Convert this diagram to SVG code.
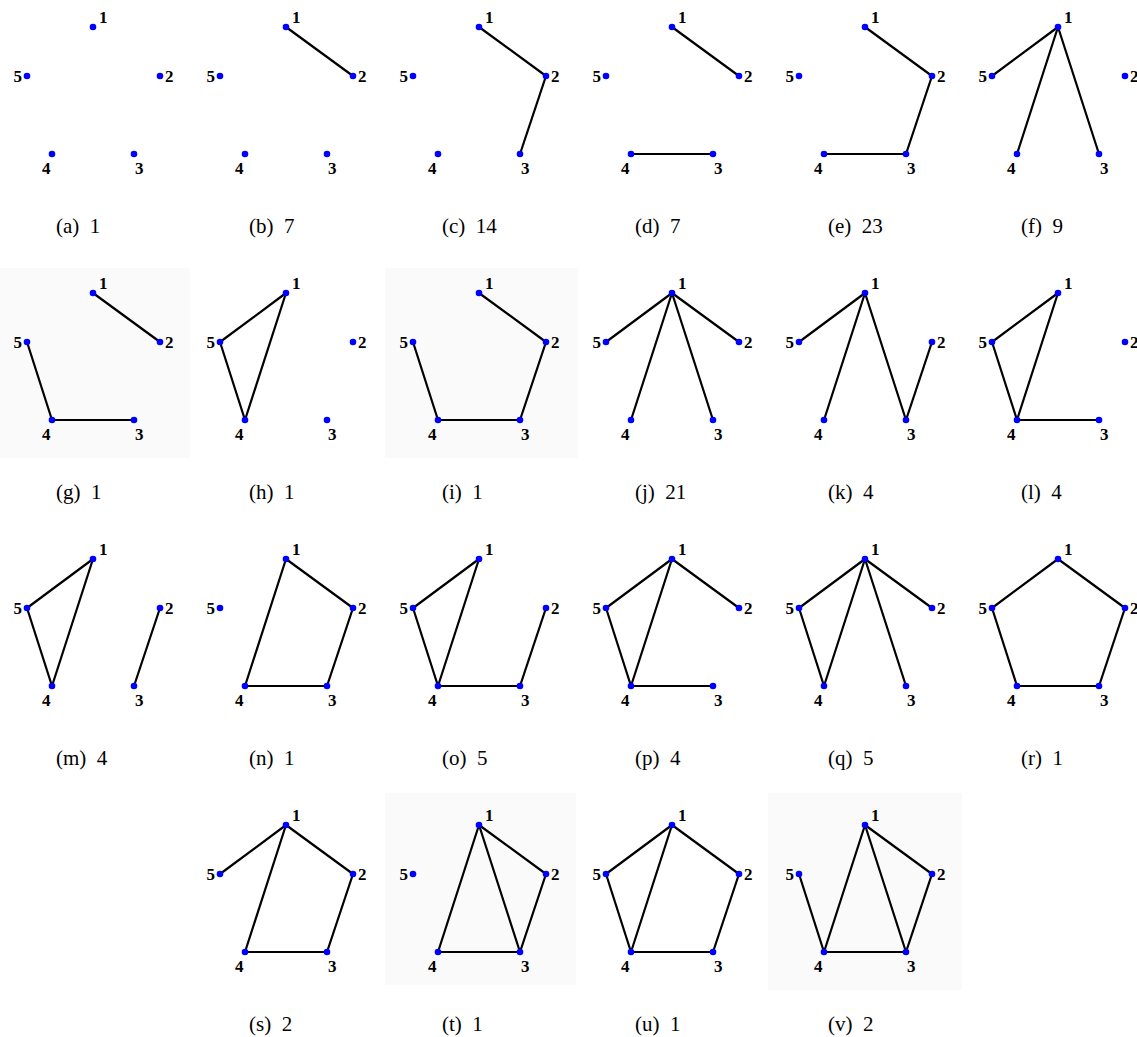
<svg xmlns="http://www.w3.org/2000/svg" width="1137" height="1037" viewBox="0 0 1137 1037">
<style>
.bg{fill:#fafafa}
.e{stroke:#000;stroke-width:2.2;stroke-linecap:round;fill:none}
.n circle{fill:#0000ff}
.n text{font-family:"Liberation Serif","Times New Roman",serif;font-weight:bold;font-size:17px;fill:#000}
.cap{font-family:"Liberation Serif","Times New Roman",serif;font-size:21px;fill:#000;white-space:pre}
</style>
<defs>
<line id="e12" x1="0" y1="0" x2="67" y2="49"/>
<line id="e23" x1="67" y1="49" x2="41" y2="127"/>
<line id="e34" x1="41" y1="127" x2="-41" y2="127"/>
<line id="e45" x1="-41" y1="127" x2="-66" y2="49"/>
<line id="e51" x1="-66" y1="49" x2="0" y2="0"/>
<line id="e14" x1="0" y1="0" x2="-41" y2="127"/>
<line id="e13" x1="0" y1="0" x2="41" y2="127"/>
</defs>
<rect class="bg" x="0" y="268" width="190" height="190"/>
<rect class="bg" x="385" y="268" width="193" height="190"/>
<rect class="bg" x="385" y="793" width="191" height="192"/>
<rect class="bg" x="768" y="793" width="194" height="197"/>
<g id="connectors" class="e">
<g transform="translate(286,27)"><use href="#e12"/></g>
<g transform="translate(479,27)"><use href="#e12"/><use href="#e23"/></g>
<g transform="translate(672,27)"><use href="#e12"/><use href="#e34"/></g>
<g transform="translate(865,27)"><use href="#e12"/><use href="#e23"/><use href="#e34"/></g>
<g transform="translate(1058,27)"><use href="#e51"/><use href="#e14"/><use href="#e13"/></g>
<g transform="translate(93,293)"><use href="#e12"/><use href="#e45"/><use href="#e34"/></g>
<g transform="translate(286,293)"><use href="#e51"/><use href="#e45"/><use href="#e14"/></g>
<g transform="translate(479,293)"><use href="#e12"/><use href="#e23"/><use href="#e34"/><use href="#e45"/></g>
<g transform="translate(672,293)"><use href="#e51"/><use href="#e14"/><use href="#e13"/><use href="#e12"/></g>
<g transform="translate(865,293)"><use href="#e51"/><use href="#e14"/><use href="#e13"/><use href="#e23"/></g>
<g transform="translate(1058,293)"><use href="#e51"/><use href="#e45"/><use href="#e14"/><use href="#e34"/></g>
<g transform="translate(93,559)"><use href="#e51"/><use href="#e45"/><use href="#e14"/><use href="#e23"/></g>
<g transform="translate(286,559)"><use href="#e12"/><use href="#e23"/><use href="#e34"/><use href="#e14"/></g>
<g transform="translate(479,559)"><use href="#e51"/><use href="#e45"/><use href="#e14"/><use href="#e34"/><use href="#e23"/></g>
<g transform="translate(672,559)"><use href="#e51"/><use href="#e45"/><use href="#e14"/><use href="#e34"/><use href="#e12"/></g>
<g transform="translate(865,559)"><use href="#e51"/><use href="#e45"/><use href="#e14"/><use href="#e13"/><use href="#e12"/></g>
<g transform="translate(1058,559)"><use href="#e12"/><use href="#e23"/><use href="#e34"/><use href="#e45"/><use href="#e51"/></g>
<g transform="translate(286,825)"><use href="#e51"/><use href="#e14"/><use href="#e12"/><use href="#e23"/><use href="#e34"/></g>
<g transform="translate(479,825)"><use href="#e14"/><use href="#e13"/><use href="#e12"/><use href="#e23"/><use href="#e34"/></g>
<g transform="translate(672,825)"><use href="#e51"/><use href="#e45"/><use href="#e14"/><use href="#e12"/><use href="#e23"/><use href="#e34"/></g>
<g transform="translate(865,825)"><use href="#e45"/><use href="#e14"/><use href="#e13"/><use href="#e12"/><use href="#e23"/><use href="#e34"/></g>
</g>
<g id="panel-a" transform="translate(93,27)">
<g id="a-n1" class="n"><circle r="3.3"/><text x="6" y="-4">1</text></g>
<g id="a-n2" class="n"><circle cx="67" cy="49" r="3.3"/><text x="72" y="55">2</text></g>
<g id="a-n3" class="n"><circle cx="41" cy="127" r="3.3"/><text x="42" y="147">3</text></g>
<g id="a-n4" class="n"><circle cx="-41" cy="127" r="3.3"/><text x="-51" y="147">4</text></g>
<g id="a-n5" class="n"><circle cx="-66" cy="49" r="3.3"/><text x="-71" y="55" text-anchor="end">5</text></g>
<text class="cap" x="-37" y="206">(a)  1</text>
</g>
<g id="panel-b" transform="translate(286,27)">
<g id="b-n1" class="n"><circle r="3.3"/><text x="6" y="-4">1</text></g>
<g id="b-n2" class="n"><circle cx="67" cy="49" r="3.3"/><text x="72" y="55">2</text></g>
<g id="b-n3" class="n"><circle cx="41" cy="127" r="3.3"/><text x="42" y="147">3</text></g>
<g id="b-n4" class="n"><circle cx="-41" cy="127" r="3.3"/><text x="-51" y="147">4</text></g>
<g id="b-n5" class="n"><circle cx="-66" cy="49" r="3.3"/><text x="-71" y="55" text-anchor="end">5</text></g>
<text class="cap" x="-37" y="206">(b)  7</text>
</g>
<g id="panel-c" transform="translate(479,27)">
<g id="c-n1" class="n"><circle r="3.3"/><text x="6" y="-4">1</text></g>
<g id="c-n2" class="n"><circle cx="67" cy="49" r="3.3"/><text x="72" y="55">2</text></g>
<g id="c-n3" class="n"><circle cx="41" cy="127" r="3.3"/><text x="42" y="147">3</text></g>
<g id="c-n4" class="n"><circle cx="-41" cy="127" r="3.3"/><text x="-51" y="147">4</text></g>
<g id="c-n5" class="n"><circle cx="-66" cy="49" r="3.3"/><text x="-71" y="55" text-anchor="end">5</text></g>
<text class="cap" x="-37" y="206">(c)  14</text>
</g>
<g id="panel-d" transform="translate(672,27)">
<g id="d-n1" class="n"><circle r="3.3"/><text x="6" y="-4">1</text></g>
<g id="d-n2" class="n"><circle cx="67" cy="49" r="3.3"/><text x="72" y="55">2</text></g>
<g id="d-n3" class="n"><circle cx="41" cy="127" r="3.3"/><text x="42" y="147">3</text></g>
<g id="d-n4" class="n"><circle cx="-41" cy="127" r="3.3"/><text x="-51" y="147">4</text></g>
<g id="d-n5" class="n"><circle cx="-66" cy="49" r="3.3"/><text x="-71" y="55" text-anchor="end">5</text></g>
<text class="cap" x="-37" y="206">(d)  7</text>
</g>
<g id="panel-e" transform="translate(865,27)">
<g id="e-n1" class="n"><circle r="3.3"/><text x="6" y="-4">1</text></g>
<g id="e-n2" class="n"><circle cx="67" cy="49" r="3.3"/><text x="72" y="55">2</text></g>
<g id="e-n3" class="n"><circle cx="41" cy="127" r="3.3"/><text x="42" y="147">3</text></g>
<g id="e-n4" class="n"><circle cx="-41" cy="127" r="3.3"/><text x="-51" y="147">4</text></g>
<g id="e-n5" class="n"><circle cx="-66" cy="49" r="3.3"/><text x="-71" y="55" text-anchor="end">5</text></g>
<text class="cap" x="-37" y="206">(e)  23</text>
</g>
<g id="panel-f" transform="translate(1058,27)">
<g id="f-n1" class="n"><circle r="3.3"/><text x="6" y="-4">1</text></g>
<g id="f-n2" class="n"><circle cx="67" cy="49" r="3.3"/><text x="72" y="55">2</text></g>
<g id="f-n3" class="n"><circle cx="41" cy="127" r="3.3"/><text x="42" y="147">3</text></g>
<g id="f-n4" class="n"><circle cx="-41" cy="127" r="3.3"/><text x="-51" y="147">4</text></g>
<g id="f-n5" class="n"><circle cx="-66" cy="49" r="3.3"/><text x="-71" y="55" text-anchor="end">5</text></g>
<text class="cap" x="-37" y="206">(f)  9</text>
</g>
<g id="panel-g" transform="translate(93,293)">
<g id="g-n1" class="n"><circle r="3.3"/><text x="6" y="-4">1</text></g>
<g id="g-n2" class="n"><circle cx="67" cy="49" r="3.3"/><text x="72" y="55">2</text></g>
<g id="g-n3" class="n"><circle cx="41" cy="127" r="3.3"/><text x="42" y="147">3</text></g>
<g id="g-n4" class="n"><circle cx="-41" cy="127" r="3.3"/><text x="-51" y="147">4</text></g>
<g id="g-n5" class="n"><circle cx="-66" cy="49" r="3.3"/><text x="-71" y="55" text-anchor="end">5</text></g>
<text class="cap" x="-37" y="206">(g)  1</text>
</g>
<g id="panel-h" transform="translate(286,293)">
<g id="h-n1" class="n"><circle r="3.3"/><text x="6" y="-4">1</text></g>
<g id="h-n2" class="n"><circle cx="67" cy="49" r="3.3"/><text x="72" y="55">2</text></g>
<g id="h-n3" class="n"><circle cx="41" cy="127" r="3.3"/><text x="42" y="147">3</text></g>
<g id="h-n4" class="n"><circle cx="-41" cy="127" r="3.3"/><text x="-51" y="147">4</text></g>
<g id="h-n5" class="n"><circle cx="-66" cy="49" r="3.3"/><text x="-71" y="55" text-anchor="end">5</text></g>
<text class="cap" x="-37" y="206">(h)  1</text>
</g>
<g id="panel-i" transform="translate(479,293)">
<g id="i-n1" class="n"><circle r="3.3"/><text x="6" y="-4">1</text></g>
<g id="i-n2" class="n"><circle cx="67" cy="49" r="3.3"/><text x="72" y="55">2</text></g>
<g id="i-n3" class="n"><circle cx="41" cy="127" r="3.3"/><text x="42" y="147">3</text></g>
<g id="i-n4" class="n"><circle cx="-41" cy="127" r="3.3"/><text x="-51" y="147">4</text></g>
<g id="i-n5" class="n"><circle cx="-66" cy="49" r="3.3"/><text x="-71" y="55" text-anchor="end">5</text></g>
<text class="cap" x="-37" y="206">(i)  1</text>
</g>
<g id="panel-j" transform="translate(672,293)">
<g id="j-n1" class="n"><circle r="3.3"/><text x="6" y="-4">1</text></g>
<g id="j-n2" class="n"><circle cx="67" cy="49" r="3.3"/><text x="72" y="55">2</text></g>
<g id="j-n3" class="n"><circle cx="41" cy="127" r="3.3"/><text x="42" y="147">3</text></g>
<g id="j-n4" class="n"><circle cx="-41" cy="127" r="3.3"/><text x="-51" y="147">4</text></g>
<g id="j-n5" class="n"><circle cx="-66" cy="49" r="3.3"/><text x="-71" y="55" text-anchor="end">5</text></g>
<text class="cap" x="-37" y="206">(j)  21</text>
</g>
<g id="panel-k" transform="translate(865,293)">
<g id="k-n1" class="n"><circle r="3.3"/><text x="6" y="-4">1</text></g>
<g id="k-n2" class="n"><circle cx="67" cy="49" r="3.3"/><text x="72" y="55">2</text></g>
<g id="k-n3" class="n"><circle cx="41" cy="127" r="3.3"/><text x="42" y="147">3</text></g>
<g id="k-n4" class="n"><circle cx="-41" cy="127" r="3.3"/><text x="-51" y="147">4</text></g>
<g id="k-n5" class="n"><circle cx="-66" cy="49" r="3.3"/><text x="-71" y="55" text-anchor="end">5</text></g>
<text class="cap" x="-37" y="206">(k)  4</text>
</g>
<g id="panel-l" transform="translate(1058,293)">
<g id="l-n1" class="n"><circle r="3.3"/><text x="6" y="-4">1</text></g>
<g id="l-n2" class="n"><circle cx="67" cy="49" r="3.3"/><text x="72" y="55">2</text></g>
<g id="l-n3" class="n"><circle cx="41" cy="127" r="3.3"/><text x="42" y="147">3</text></g>
<g id="l-n4" class="n"><circle cx="-41" cy="127" r="3.3"/><text x="-51" y="147">4</text></g>
<g id="l-n5" class="n"><circle cx="-66" cy="49" r="3.3"/><text x="-71" y="55" text-anchor="end">5</text></g>
<text class="cap" x="-37" y="206">(l)  4</text>
</g>
<g id="panel-m" transform="translate(93,559)">
<g id="m-n1" class="n"><circle r="3.3"/><text x="6" y="-4">1</text></g>
<g id="m-n2" class="n"><circle cx="67" cy="49" r="3.3"/><text x="72" y="55">2</text></g>
<g id="m-n3" class="n"><circle cx="41" cy="127" r="3.3"/><text x="42" y="147">3</text></g>
<g id="m-n4" class="n"><circle cx="-41" cy="127" r="3.3"/><text x="-51" y="147">4</text></g>
<g id="m-n5" class="n"><circle cx="-66" cy="49" r="3.3"/><text x="-71" y="55" text-anchor="end">5</text></g>
<text class="cap" x="-37" y="206">(m)  4</text>
</g>
<g id="panel-n" transform="translate(286,559)">
<g id="n-n1" class="n"><circle r="3.3"/><text x="6" y="-4">1</text></g>
<g id="n-n2" class="n"><circle cx="67" cy="49" r="3.3"/><text x="72" y="55">2</text></g>
<g id="n-n3" class="n"><circle cx="41" cy="127" r="3.3"/><text x="42" y="147">3</text></g>
<g id="n-n4" class="n"><circle cx="-41" cy="127" r="3.3"/><text x="-51" y="147">4</text></g>
<g id="n-n5" class="n"><circle cx="-66" cy="49" r="3.3"/><text x="-71" y="55" text-anchor="end">5</text></g>
<text class="cap" x="-37" y="206">(n)  1</text>
</g>
<g id="panel-o" transform="translate(479,559)">
<g id="o-n1" class="n"><circle r="3.3"/><text x="6" y="-4">1</text></g>
<g id="o-n2" class="n"><circle cx="67" cy="49" r="3.3"/><text x="72" y="55">2</text></g>
<g id="o-n3" class="n"><circle cx="41" cy="127" r="3.3"/><text x="42" y="147">3</text></g>
<g id="o-n4" class="n"><circle cx="-41" cy="127" r="3.3"/><text x="-51" y="147">4</text></g>
<g id="o-n5" class="n"><circle cx="-66" cy="49" r="3.3"/><text x="-71" y="55" text-anchor="end">5</text></g>
<text class="cap" x="-37" y="206">(o)  5</text>
</g>
<g id="panel-p" transform="translate(672,559)">
<g id="p-n1" class="n"><circle r="3.3"/><text x="6" y="-4">1</text></g>
<g id="p-n2" class="n"><circle cx="67" cy="49" r="3.3"/><text x="72" y="55">2</text></g>
<g id="p-n3" class="n"><circle cx="41" cy="127" r="3.3"/><text x="42" y="147">3</text></g>
<g id="p-n4" class="n"><circle cx="-41" cy="127" r="3.3"/><text x="-51" y="147">4</text></g>
<g id="p-n5" class="n"><circle cx="-66" cy="49" r="3.3"/><text x="-71" y="55" text-anchor="end">5</text></g>
<text class="cap" x="-37" y="206">(p)  4</text>
</g>
<g id="panel-q" transform="translate(865,559)">
<g id="q-n1" class="n"><circle r="3.3"/><text x="6" y="-4">1</text></g>
<g id="q-n2" class="n"><circle cx="67" cy="49" r="3.3"/><text x="72" y="55">2</text></g>
<g id="q-n3" class="n"><circle cx="41" cy="127" r="3.3"/><text x="42" y="147">3</text></g>
<g id="q-n4" class="n"><circle cx="-41" cy="127" r="3.3"/><text x="-51" y="147">4</text></g>
<g id="q-n5" class="n"><circle cx="-66" cy="49" r="3.3"/><text x="-71" y="55" text-anchor="end">5</text></g>
<text class="cap" x="-37" y="206">(q)  5</text>
</g>
<g id="panel-r" transform="translate(1058,559)">
<g id="r-n1" class="n"><circle r="3.3"/><text x="6" y="-4">1</text></g>
<g id="r-n2" class="n"><circle cx="67" cy="49" r="3.3"/><text x="72" y="55">2</text></g>
<g id="r-n3" class="n"><circle cx="41" cy="127" r="3.3"/><text x="42" y="147">3</text></g>
<g id="r-n4" class="n"><circle cx="-41" cy="127" r="3.3"/><text x="-51" y="147">4</text></g>
<g id="r-n5" class="n"><circle cx="-66" cy="49" r="3.3"/><text x="-71" y="55" text-anchor="end">5</text></g>
<text class="cap" x="-37" y="206">(r)  1</text>
</g>
<g id="panel-s" transform="translate(286,825)">
<g id="s-n1" class="n"><circle r="3.3"/><text x="6" y="-4">1</text></g>
<g id="s-n2" class="n"><circle cx="67" cy="49" r="3.3"/><text x="72" y="55">2</text></g>
<g id="s-n3" class="n"><circle cx="41" cy="127" r="3.3"/><text x="42" y="147">3</text></g>
<g id="s-n4" class="n"><circle cx="-41" cy="127" r="3.3"/><text x="-51" y="147">4</text></g>
<g id="s-n5" class="n"><circle cx="-66" cy="49" r="3.3"/><text x="-71" y="55" text-anchor="end">5</text></g>
<text class="cap" x="-37" y="206">(s)  2</text>
</g>
<g id="panel-t" transform="translate(479,825)">
<g id="t-n1" class="n"><circle r="3.3"/><text x="6" y="-4">1</text></g>
<g id="t-n2" class="n"><circle cx="67" cy="49" r="3.3"/><text x="72" y="55">2</text></g>
<g id="t-n3" class="n"><circle cx="41" cy="127" r="3.3"/><text x="42" y="147">3</text></g>
<g id="t-n4" class="n"><circle cx="-41" cy="127" r="3.3"/><text x="-51" y="147">4</text></g>
<g id="t-n5" class="n"><circle cx="-66" cy="49" r="3.3"/><text x="-71" y="55" text-anchor="end">5</text></g>
<text class="cap" x="-37" y="206">(t)  1</text>
</g>
<g id="panel-u" transform="translate(672,825)">
<g id="u-n1" class="n"><circle r="3.3"/><text x="6" y="-4">1</text></g>
<g id="u-n2" class="n"><circle cx="67" cy="49" r="3.3"/><text x="72" y="55">2</text></g>
<g id="u-n3" class="n"><circle cx="41" cy="127" r="3.3"/><text x="42" y="147">3</text></g>
<g id="u-n4" class="n"><circle cx="-41" cy="127" r="3.3"/><text x="-51" y="147">4</text></g>
<g id="u-n5" class="n"><circle cx="-66" cy="49" r="3.3"/><text x="-71" y="55" text-anchor="end">5</text></g>
<text class="cap" x="-37" y="206">(u)  1</text>
</g>
<g id="panel-v" transform="translate(865,825)">
<g id="v-n1" class="n"><circle r="3.3"/><text x="6" y="-4">1</text></g>
<g id="v-n2" class="n"><circle cx="67" cy="49" r="3.3"/><text x="72" y="55">2</text></g>
<g id="v-n3" class="n"><circle cx="41" cy="127" r="3.3"/><text x="42" y="147">3</text></g>
<g id="v-n4" class="n"><circle cx="-41" cy="127" r="3.3"/><text x="-51" y="147">4</text></g>
<g id="v-n5" class="n"><circle cx="-66" cy="49" r="3.3"/><text x="-71" y="55" text-anchor="end">5</text></g>
<text class="cap" x="-37" y="206">(v)  2</text>
</g>
</svg>
